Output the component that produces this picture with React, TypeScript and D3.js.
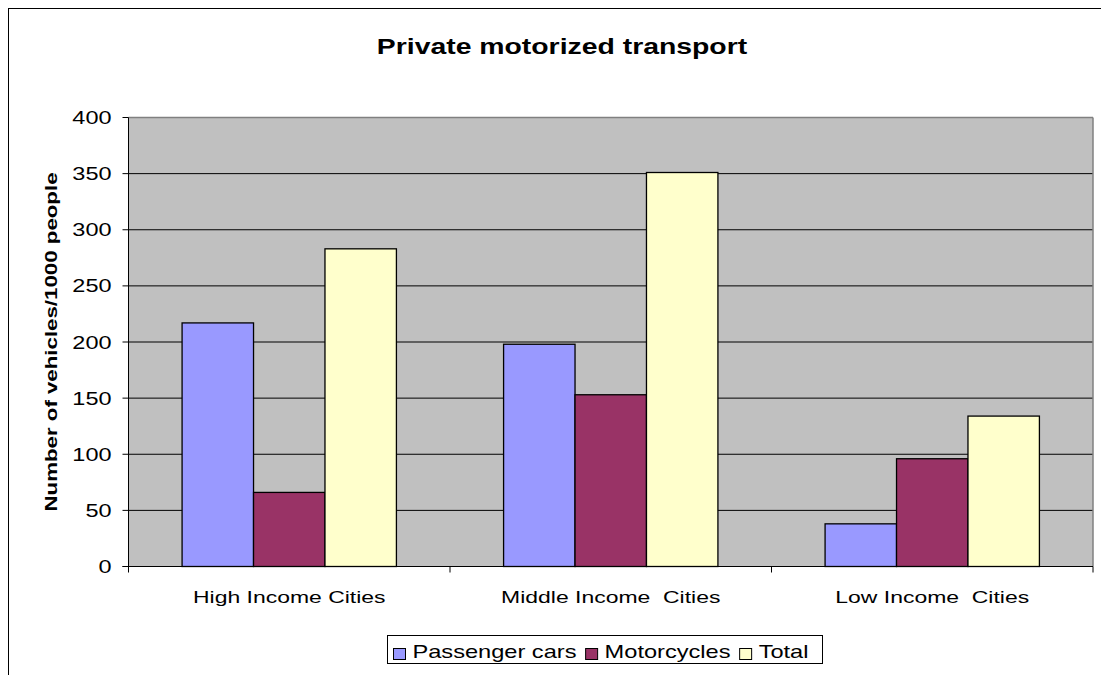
import React from "react";
import * as d3 from "d3";

const categories = ["High Income Cities", "Middle Income  Cities", "Low Income  Cities"];
const seriesNames = ["Passenger cars", "Motorcycles", "Total"];
const passengerCars = [217, 198, 38];
const motorcycles = [66, 153, 96];
const total = [283, 351, 134];
const yTicks = [0, 50, 100, 150, 200, 250, 300, 350, 400];
const seriesColors = ["#9999FF", "#993366", "#FFFFCC"];

const W = 1101;
const H = 675;
const plot = { left: 128.5, right: 1093, top: 117.5, bottom: 566.5 };
const SX = 1.35;
const FONT = "'Liberation Sans', Arial, sans-serif";

export default function App() {
  const seriesValues = [passengerCars, motorcycles, total];
  const y = d3.scaleLinear().domain([0, 400]).range([plot.bottom, plot.top]);
  const x0 = d3.scaleBand<string>().domain(categories).range([plot.left, plot.right]).padding(0);
  const bw = x0.bandwidth();
  const x1 = d3
    .scaleBand<string>()
    .domain(seriesNames)
    .range([bw / 6, (bw * 5) / 6])
    .padding(0);

  const legendTextWidths = seriesNames.map((s) => {
    const w: Record<string, number> = { "Passenger cars": 6.947, Motorcycles: 5.334, Total: 2.223 };
    return w[s] * 17.5 * SX;
  });
  const sw = 12, gapSw = 7, gapItem = 9, pad = 6;
  const legendLeft = 387.5;
  let cx = legendLeft + pad;
  const legendItems = seriesNames.map((s, i) => {
    const item = { name: s, color: seriesColors[i], sx: cx, tx: cx + sw + gapSw };
    cx += sw + gapSw + legendTextWidths[i] + gapItem;
    return item;
  });
  const legendRight = 822.5;

  const boundaries = [...categories.map((c) => x0(c)!), plot.right];

  return (
    <svg
      width={W}
      height={H}
      style={{ position: "absolute", left: 0, top: 0, display: "block", background: "#fff" }}
      fontFamily={FONT}
    >
      <rect x={8.5} y={8.5} width={1200} height={800} fill="#fff" stroke="#000" strokeWidth={1} />
      <text
        transform={`translate(562,53.5) scale(1.29,1)`}
        textAnchor="middle"
        fontSize={22}
        fontWeight="bold"
        fill="#000"
      >
        Private motorized transport
      </text>

      <rect
        x={plot.left}
        y={plot.top}
        width={plot.right - plot.left}
        height={plot.bottom - plot.top}
        fill="#C0C0C0"
      />
      {yTicks
        .filter((t) => t > 0 && t < 400)
        .map((t) => (
          <line key={t} x1={plot.left} x2={plot.right} y1={y(t)} y2={y(t)} stroke="#000" strokeWidth={1} />
        ))}
      <line x1={plot.left} x2={plot.right} y1={plot.top} y2={plot.top} stroke="#808080" strokeWidth={1.5} />
      <line x1={plot.right} x2={plot.right} y1={plot.top} y2={plot.bottom} stroke="#808080" strokeWidth={1.5} />

      {categories.map((c, ci) => (
        <g key={c} transform={`translate(${x0(c)},0)`}>
          {seriesNames.map((s, si) => {
            const v = seriesValues[si][ci];
            return (
              <rect
                key={s}
                x={x1(s)}
                y={y(v)}
                width={x1.bandwidth()}
                height={y(0) - y(v)}
                fill={seriesColors[si]}
                stroke="#000"
                strokeWidth={1.3}
              />
            );
          })}
        </g>
      ))}

      <line x1={plot.left} x2={plot.left} y1={plot.top} y2={plot.bottom + 5} stroke="#000" strokeWidth={1} />
      <line x1={plot.left - 6} x2={plot.right} y1={plot.bottom} y2={plot.bottom} stroke="#000" strokeWidth={1} />
      {yTicks.map((t) => (
        <g key={t}>
          <line x1={plot.left - 6} x2={plot.left} y1={y(t)} y2={y(t)} stroke="#000" strokeWidth={1} />
          <text
            transform={`translate(111.5,${y(t) + 6.5}) scale(1.27,1)`}
            textAnchor="end"
            fontSize={18.5}
            fill="#000"
          >
            {t}
          </text>
        </g>
      ))}
      {boundaries.map((b, i) => (
        <line key={i} x1={b} x2={b} y1={plot.bottom} y2={plot.bottom + 6} stroke="#000" strokeWidth={1} />
      ))}
      {categories.map((c) => (
        <text
          key={c}
          transform={`translate(${x0(c)! + bw / 2},602.5) scale(${SX},1)`}
          textAnchor="middle"
          fontSize={17}
          fill="#000"
          style={{ whiteSpace: "pre" }}
        >
          {c}
        </text>
      ))}
      <text
        transform={`translate(56.5,${(plot.top + plot.bottom) / 2}) rotate(-90) scale(${SX},1)`}
        textAnchor="middle"
        fontSize={16.5}
        fontWeight="bold"
        fill="#000"
      >
        Number of vehicles/1000 people
      </text>

      <rect
        x={legendLeft}
        y={635.5}
        width={legendRight - legendLeft}
        height={28}
        fill="#fff"
        stroke="#000"
        strokeWidth={1}
      />
      {legendItems.map((it) => (
        <g key={it.name}>
          <rect x={it.sx} y={648.5} width={sw} height={11} fill={it.color} stroke="#000" strokeWidth={1} />
          <text
            transform={`translate(${it.tx},657.7) scale(${SX},1)`}
            fontSize={17.5}
            fill="#000"
          >
            {it.name}
          </text>
        </g>
      ))}
    </svg>
  );
}
